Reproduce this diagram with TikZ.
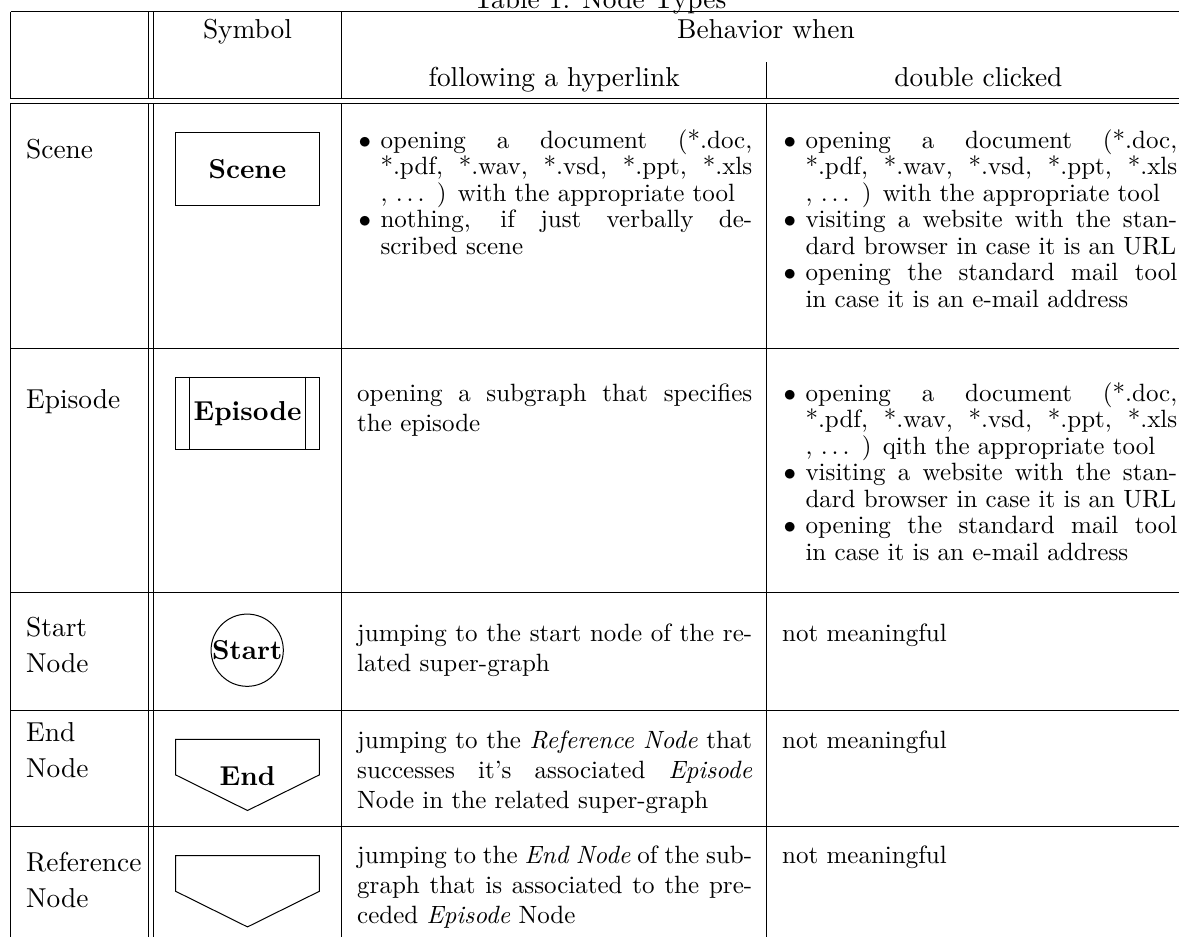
\documentclass[tikz,border=0pt]{standalone}
\newcommand{\mypar}[2]{\parbox[t]{#1}{\tolerance=10000\relax #2}}
\newcommand{\eldots}{.\kern1.6pt.\kern1.6pt.\kern1.6pt}
\begin{document}
\begin{tikzpicture}[x=0.4pt,y=-0.4pt,
  rul/.style={draw=black,line width=0.4pt},
  lbl/.style={anchor=base west,inner sep=0pt,font=\fontsize{10.95}{14.2}\selectfont},
  hdr/.style={anchor=base,inner sep=0pt,font=\fontsize{10.95}{13.6}\selectfont},
  txt/.style={anchor=base west,inner sep=0pt,font=\fontsize{10}{12}\selectfont},
  itx/.style={anchor=base west,inner sep=0pt,font=\fontsize{10}{10.6}\selectfont},
  bul/.style={anchor=base west,inner sep=0pt,font=\fontsize{10}{10.6}\selectfont},
  symbox/.style={draw=black,line width=0.4pt,inner sep=0pt,minimum width=57.44pt,minimum height=28.9pt},
  symcirc/.style={draw=black,line width=0.4pt,circle,inner sep=0pt,minimum size=28.9pt},
  symtxt/.style={anchor=base,inner sep=0pt,font=\fontsize{10.95}{13.6}\selectfont\bfseries}]
\useasboundingbox (0,0) rectangle (1179,936);
\clip (0,0) rectangle (1179,936);

% title
\node[hdr] (title) at (600,8.3) {Table 1: Node Types};

% horizontal rules
\foreach \y in {11.7,98.7,103.3,348.3,592,710.5,826} {
  \draw[rul] (10.7,\y) -- (1195,\y);
}
% vertical rules
\foreach \x in {10.7,148.3,153.3,341.7} {
  \draw[rul] (\x,11.7) -- (\x,98.7);
  \draw[rul] (\x,103.3) -- (\x,940);
}
\draw[rul] (766.7,62) -- (766.7,98.7);
\draw[rul] (766.7,103.3) -- (766.7,940);

% header
\node[hdr] (hsym) at (247.5,38.3) {Symbol};
\node[hdr] (hbeh) at (766,38.3) {Behavior when};
\node[hdr] (hfol) at (554.2,86.7) {following a hyperlink};
\node[hdr] (hdbl) at (978.4,86.7) {double clicked};

% ---------------- Scene row
\node[lbl] (lscene) at (25.7,158.3) {Scene};
\node[symbox] (scenesym) at (247.5,168.9) {};
\node[symtxt] (scenetxt) at (247.5,178.8) {Scene};

\node[bul] (sb1) at (358,148) {$\bullet$};
\node[itx] (st1) at (380,148) {\mypar{148.7pt}{opening a document (*.doc,\linebreak *.pdf, *.wav, *.vsd, *.ppt, *.xls\linebreak , \eldots\ ) with the appropriate tool}};
\node[bul] (sb2) at (358,227.5) {$\bullet$};
\node[itx] (st2) at (380,227.5) {\mypar{148.7pt}{nothing, if just verbally de-\linebreak scribed scene}};

\node[bul] (sd1) at (783,148) {$\bullet$};
\node[itx] (sdt1) at (805,148) {\mypar{148.7pt}{opening a document (*.doc,\linebreak *.pdf, *.wav, *.vsd, *.ppt, *.xls\linebreak , \eldots\ ) with the appropriate tool}};
\node[bul] (sd2) at (783,227.5) {$\bullet$};
\node[itx] (sdt2) at (805,227.5) {\mypar{148.7pt}{visiting a website with the stan-\linebreak dard browser in case it is an URL}};
\node[bul] (sd3) at (783,280.5) {$\bullet$};
\node[itx] (sdt3) at (805,280.5) {\mypar{148.7pt}{opening the standard mail tool\linebreak in case it is an e-mail address}};

% ---------------- Episode row
\node[lbl] (lepi) at (25.7,408.3) {Episode};
\node[symbox] (episym) at (247.5,413.2) {};
\draw[rul] ([xshift=5.7pt]episym.north west) -- ([xshift=5.7pt]episym.south west);
\draw[rul] ([xshift=-5.7pt]episym.north east) -- ([xshift=-5.7pt]episym.south east);
\node[symtxt] (epitxt) at (247.5,420) {Episode};

\node[txt] (et1) at (356.7,401) {\mypar{158pt}{opening a subgraph that specifies\linebreak the episode}};

\node[bul] (ed1) at (783,401) {$\bullet$};
\node[itx] (edt1) at (805,401) {\mypar{148.7pt}{opening a document (*.doc,\linebreak *.pdf, *.wav, *.vsd, *.ppt, *.xls\linebreak , \eldots\ ) qith the appropriate tool}};
\node[bul] (ed2) at (783,480.5) {$\bullet$};
\node[itx] (edt2) at (805,480.5) {\mypar{148.7pt}{visiting a website with the stan-\linebreak dard browser in case it is an URL}};
\node[bul] (ed3) at (783,533.5) {$\bullet$};
\node[itx] (edt3) at (805,533.5) {\mypar{148.7pt}{opening the standard mail tool\linebreak in case it is an e-mail address}};

% ---------------- Start row
\node[lbl] (lstart) at (25.7,636.7) {\parbox[t]{50pt}{Start\\Node}};
\node[symcirc] (startsym) at (247.2,650.2) {};
\node[symtxt] (starttxt) at (247.2,659.6) {Start};
\node[txt] (stt1) at (356.7,641.7) {\mypar{158pt}{jumping to the start node of the re-\linebreak lated super-graph}};
\node[txt] (std1) at (781.7,641.7) {not meaningful};

% ---------------- End row
\node[lbl] (lend) at (25.7,741.7) {\parbox[t]{50pt}{End\\Node}};
\coordinate (e1) at (175.7,739.3);
\coordinate (e2) at (319.3,739.3);
\coordinate (e3) at (319.3,774.9);
\coordinate (e4) at (247.5,810.5);
\coordinate (e5) at (175.7,774.9);
\draw[rul] (e1) -- (e2) -- (e3) -- (e4) -- (e5) -- cycle;
\node[symtxt] (endtxt) at (247.5,785) {End};
\node[txt] (ent1) at (356.7,748.3) {\mypar{158pt}{jumping to the \emph{Reference Node} that\linebreak successes it's associated \emph{Episode}\linebreak Node in the related super-graph}};
\node[txt] (end1) at (781.7,748.3) {not meaningful};

% ---------------- Reference row
\node[lbl] (lref) at (25.7,871.7) {\parbox[t]{50pt}{Reference\\Node}};
\coordinate (r1) at (175.7,855.7);
\coordinate (r2) at (319.3,855.7);
\coordinate (r3) at (319.3,891.3);
\coordinate (r4) at (247.5,926.9);
\coordinate (r5) at (175.7,891.3);
\draw[rul] (r1) -- (r2) -- (r3) -- (r4) -- (r5) -- cycle;
\node[txt] (rt1) at (356.7,863.3) {\mypar{158pt}{jumping to the \emph{End Node} of the sub-\linebreak graph that is associated to the pre-\linebreak ceded \emph{Episode} Node}};
\node[txt] (rd1) at (781.7,863.3) {not meaningful};
\end{tikzpicture}
\end{document}
